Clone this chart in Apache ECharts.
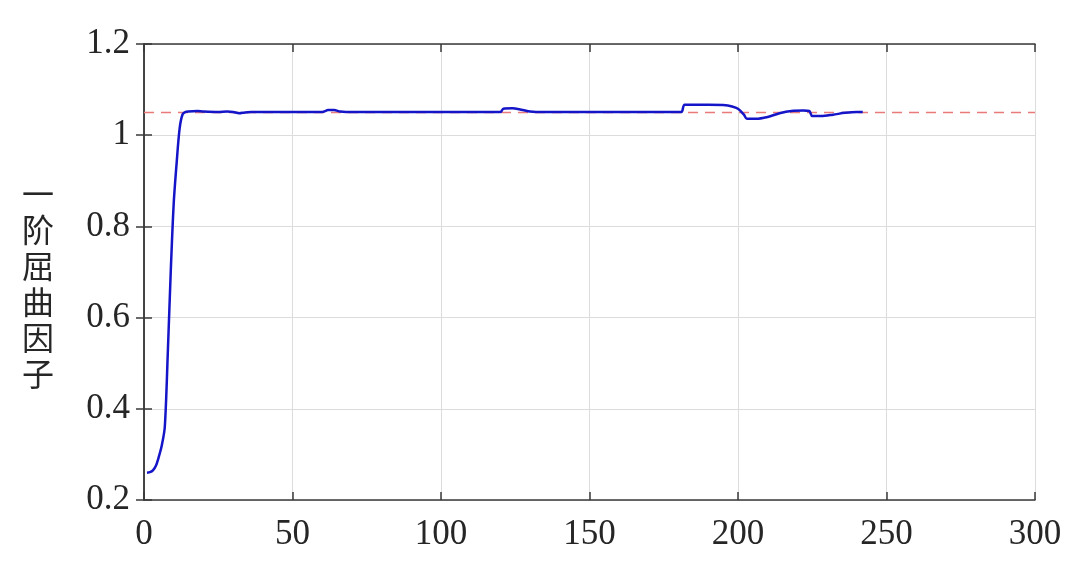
<!DOCTYPE html>
<html>
<head>
<meta charset="utf-8">
<script src="https://cdn.jsdelivr.net/npm/echarts@6/dist/echarts.min.js"></script>
<style>
html,body{margin:0;padding:0;background:#fff;}
#chart{width:1080px;height:578px;}
</style>
</head>
<body>
<div id="chart"></div>
<script>
// Data
const xs = [1, 2, 3, 4, 5, 6, 7, 8, 9, 10, 11, 12, 13, 14, 15, 18, 20, 25, 28, 30, 32, 34, 36, 45, 55, 60, 62, 64, 66, 68,
            120, 121, 124, 127, 130, 132, 180, 181, 182, 185, 190, 195, 198, 200, 202, 203, 206, 210, 214, 218, 222, 224,
            225, 228, 232, 236, 240, 242];
const ys = [0.260, 0.261, 0.265, 0.275, 0.295, 0.320, 0.360, 0.520, 0.700, 0.850, 0.940, 1.015, 1.046, 1.051, 1.052, 1.053, 1.052, 1.051, 1.052, 1.051, 1.048, 1.050, 1.051, 1.051, 1.051, 1.051, 1.055, 1.055, 1.052, 1.051,
            1.051, 1.058, 1.059, 1.056, 1.052, 1.051, 1.051, 1.051, 1.067, 1.067, 1.067, 1.066, 1.063, 1.058, 1.045, 1.036, 1.036, 1.040, 1.048, 1.053, 1.054, 1.053,
            1.042, 1.042, 1.045, 1.049, 1.051, 1.051];
const refValue = 1.05;
const xTicks = [0, 50, 100, 150, 200, 250, 300];
const yTicks = [0.2, 0.4, 0.6, 0.8, 1.0, 1.2];
const yName = '一阶屈曲因子';

const seriesData = xs.map((x, i) => [x, ys[i]]);
const refData = [[xTicks[0], refValue], [xTicks[xTicks.length - 1], refValue]];

const chart = echarts.init(document.getElementById('chart'), null, {renderer: 'canvas'});
const numFont = {fontFamily: '"Liberation Serif", "Times New Roman", serif', fontSize: 35, color: '#262626'};
const axisLine = {show: true, lineStyle: {color: '#3a3a3a', width: 1.5}};
const tickStyle = {show: true, inside: true, length: 8, lineStyle: {color: '#3a3a3a', width: 1.5}};

chart.setOption({
  backgroundColor: '#ffffff',
  animation: false,
  grid: {left: 144, right: 45, top: 44, bottom: 78, containLabel: false},
  xAxis: [{
    type: 'value', min: xTicks[0], max: xTicks[xTicks.length - 1], interval: 50, position: 'bottom',
    axisLine: axisLine, axisTick: tickStyle,
    axisLabel: Object.assign({margin: 17}, numFont),
    splitLine: {show: true, lineStyle: {color: '#dcdcdc', width: 1}}
  }, {
    type: 'value', min: xTicks[0], max: xTicks[xTicks.length - 1], interval: 50, position: 'top',
    axisLine: axisLine, axisTick: tickStyle, axisLabel: {show: false}, splitLine: {show: false}
  }],
  yAxis: [{
    type: 'value', min: yTicks[0], max: yTicks[yTicks.length - 1], interval: 0.2, position: 'left',
    axisLine: axisLine, axisTick: tickStyle,
    axisLabel: Object.assign({margin: 14, padding: [8, 0, 0, 0], formatter: v => String(+v.toFixed(1))}, numFont),
    splitLine: {show: true, lineStyle: {color: '#dcdcdc', width: 1}}
  }, {
    type: 'value', min: yTicks[0], max: yTicks[yTicks.length - 1], interval: 0.2, position: 'right',
    axisLine: axisLine, axisTick: tickStyle, axisLabel: {show: false}, splitLine: {show: false}
  }],
  graphic: [{
    type: 'text', left: 22, top: 176,
    style: {
      text: yName.split('').join('\n'),
      font: '32px "Noto Sans CJK SC", sans-serif',
      lineHeight: 36, fill: '#262626', textAlign: 'left'
    }
  }],
  series: [{
    type: 'line', data: refData, showSymbol: false, z: 2,
    lineStyle: {color: '#e87a7a', width: 1.5, type: [10, 7]}
  }, {
    type: 'line', data: seriesData, showSymbol: false, smooth: 0.3, z: 3,
    lineStyle: {color: '#1414c8', width: 2.5}
  }]
});
</script>
</body>
</html>
